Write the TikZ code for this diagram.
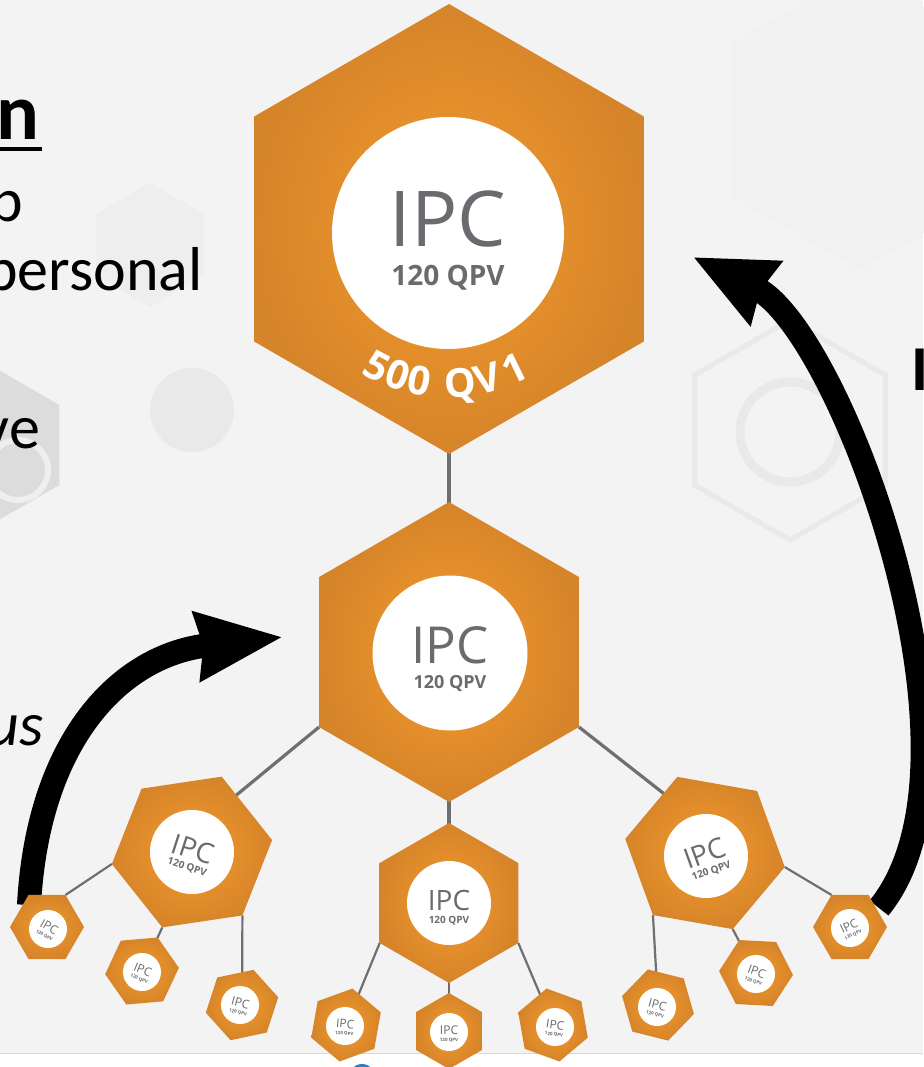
\documentclass[tikz,border=0pt]{standalone}
\usepackage{fontspec}
\setmainfont{Carlito}
\newfontfamily\ipcf{Open Sans}
\usetikzlibrary{arrows.meta}
\definecolor{bgc}{HTML}{F3F3F3}
\definecolor{decoa}{HTML}{EEEEEE}
\definecolor{decob}{HTML}{DCDCDC}
\definecolor{decoc}{HTML}{E9E9E9}
\definecolor{orin}{HTML}{F39B2D}
\definecolor{orout}{HTML}{D6842A}
\definecolor{ipcgray}{HTML}{6A6B6E}
\definecolor{lgray}{HTML}{6E6F73}
\definecolor{logoblue}{HTML}{2F7FC1}

% hexagon corner coordinates: name, cx, cy, R, rotation
\newcommand\hexdef[5]{%
  \coordinate (#1) at (#2,#3);
  \foreach \k in {1,...,6}{%
    \pgfmathsetmacro\hx{#2+#4*cos(#5+60*(\k-1))}%
    \pgfmathsetmacro\hy{#3+#4*sin(#5+60*(\k-1))}%
    \coordinate (#1-\k) at (\hx,\hy);}
}
\newcommand\hexfill[1]{%
  \shade[inner color=orin, outer color=orout] (#1-1) -- (#1-2) -- (#1-3) -- (#1-4) -- (#1-5) -- (#1-6) -- cycle;
}
\newcommand\hexdeco[5]{%
  \hexdef{tmph}{#2}{#3}{#4}{#5}
  \path[#1] (tmph-1) -- (tmph-2) -- (tmph-3) -- (tmph-4) -- (tmph-5) -- (tmph-6) -- cycle;
}
% label: name, cx, cy, rot, size IPC, size QPV, base IPC, base QPV
\newcommand\ipclab[8]{%
  \begin{scope}[shift={(#2,#3)}, rotate=#4, transform shape]
    \node[ipctext, font=\ipcf\fontsize{#5}{#5}\selectfont] (#1i) at (0,#7) {IPC};
    \node[ipctext, font=\ipcf\bfseries\fontsize{#6}{#6}\selectfont] (#1q) at (0,#8) {120 QPV};
  \end{scope}
}

\begin{document}
\begin{tikzpicture}[x=1pt,y=-1pt,
  conn/.style={draw=lgray, line width=3.2pt},
  connsm/.style={draw=lgray, line width=2.2pt},
  bigarrow/.style={draw=black, line width=24pt},
  ipctext/.style={text=ipcgray, inner sep=0pt, anchor=base},
  disk/.style={circle, fill=white, inner sep=0pt},
  lefttext/.style={text=black, inner sep=0pt, anchor=base east, font=\fontsize{62}{62}\selectfont},
]
\useasboundingbox (0,0) rectangle (923,1067);
\fill[bgc] (0,0) rectangle (923,1053);
\fill[white!97!bgc] (0,1053) rectangle (923,1067);
\draw[gray!30, line width=1pt] (0,1053) -- (923,1053);
\fill[logoblue] (362,1078) circle[radius=14];

% faint background decorations
\hexdeco{fill=decoa}{150}{245}{62}{30}
\hexdeco{fill=bgc!60!decoa}{860}{120}{150}{30}
\hexdeco{fill=decob}{-10}{445}{80}{30}
\draw[white!55!decob, line width=6pt] (18,470) circle[radius=30];
\fill[decoc] (192,410) circle[radius=42];
\hexdeco{draw=decoc, line width=5pt}{790}{430}{110}{30}
\draw[decoc, line width=9pt] (790,432) circle[radius=50];

% hexagon geometry
\hexdef{T}{449}{229}{225}{30}
\hexdef{M}{449}{652}{150}{30}
\hexdef{C}{449}{903}{80}{30}
\hexdef{L}{192}{852}{81}{-8.5}
\hexdef{R}{705}{853}{81}{10}
\hexdef{Sa}{47}{927}{37}{0}
\hexdef{Sb}{142}{971}{37}{-5}
\hexdef{Sc}{242}{1005}{37}{-12}
\hexdef{Sd}{346}{1025}{37}{-20}
\hexdef{Se}{449}{1031}{38}{30}
\hexdef{Sf}{553}{1025}{37}{20}
\hexdef{Sg}{658}{1005}{37}{14}
\hexdef{Sh}{756}{973}{37}{3}
\hexdef{Si}{850}{927}{37}{0}

% connectors
\coordinate (Lin) at (228,802);
\coordinate (Rin) at (672,800);
\draw[conn] (T) -- (M);
\draw[conn] (M) -- (C);
\draw[conn] (M-3) -- (Lin);
\draw[conn] (M-1) -- (Rin);
\draw[connsm] (C-3) -- (Sd);
\draw[connsm] (C) -- (Se);
\draw[connsm] (C-1) -- (Sf);
\draw[connsm] (L-4) -- (Sa-6);
\draw[connsm] (L-3) -- (Sb);
\draw[connsm] (L-2) -- (Sc);
\draw[connsm] (R-3) -- (Sg);
\draw[connsm] (R-2) -- (Sh);
\draw[connsm] (R-1) -- (Si-5);

% big curved arrows
\coordinate (la0) at (29,905);
\coordinate (ltip) at (283,637);
\coordinate (ra0) at (879,908);
\coordinate (rtip) at (693,257);
\draw[bigarrow, -{Stealth[length=85pt,width=66pt,inset=5pt]}] (la0) .. controls (38,740) and (120,655) .. (ltip);
\draw[bigarrow, -{Stealth[length=80pt,width=68pt,inset=5pt]}] (ra0) .. controls (1000,760) and (840,330) .. (rtip);

% hexagons
\foreach \h in {T,M,C,L,R,Sa,Sb,Sc,Sd,Se,Sf,Sg,Sh,Si}{\hexfill{\h}}

% white disks
\node[disk, minimum size=232pt] (Td) at (448,233) {};
\node[disk, minimum size=155pt] (Md) at (450,653) {};
\node[disk, minimum size=84pt] (Cd) at (449,903) {};
\node[disk, minimum size=84pt] (Ld) at (192,852) {};
\node[disk, minimum size=84pt] (Rd) at (706,856) {};
\foreach \n/\x/\y in {Sa/48/929, Sb/142/972, Sc/240/1005, Sd/345/1026, Se/449/1032, Sf/555/1027, Sg/657/1007, Sh/756/974, Si/850/928}
  \node[disk, minimum size=38pt] (\n d) at (\x,\y) {};

% labels
\ipclab{T}{448}{233}{0}{77}{28}{14}{52}
\ipclab{M}{450}{653}{0}{51}{18}{10}{35}
\ipclab{C}{449}{903}{0}{28}{10}{7}{20}
\ipclab{L}{192}{852}{-18}{28}{10}{7}{19}
\ipclab{R}{706}{856}{20}{28}{10}{7}{19}
\ipclab{Sa}{48}{929}{-30}{12}{4.5}{2}{9}
\ipclab{Sb}{142}{972}{-22}{12}{4.5}{2}{9}
\ipclab{Sc}{240}{1005}{-15}{12}{4.5}{2}{9}
\ipclab{Sd}{345}{1026}{-5}{12}{4.5}{2}{9}
\ipclab{Se}{449}{1032}{0}{12}{4.5}{2}{9}
\ipclab{Sf}{555}{1027}{-8}{12}{4.5}{2}{9}
\ipclab{Sg}{657}{1007}{-15}{12}{4.5}{2}{9}
\ipclab{Sh}{756}{974}{-20}{12}{4.5}{2}{9}
\ipclab{Si}{850}{928}{25}{12}{4.5}{2}{9}

% curved "500 QV1"
\foreach \ch/\a [count=\i] in {5/-28, 0/-19.5, 0/-11, Q/4.6, V/15, 1/26}{%
  \pgfmathsetmacro\px{448+165*sin(\a)}%
  \pgfmathsetmacro\py{233+165*cos(\a)}%
  \node[text=white, inner sep=0pt, anchor=base, rotate=\a, font=\ipcf\bfseries\fontsize{40}{40}\selectfont] (qv\i) at (\px,\py) {\ch};}

% cropped side texts
\node[lefttext, font=\bfseries\fontsize{80}{80}\selectfont] (tn) at (40,140) {n};
\fill[black] (0,147) rectangle (42,151);
\node[lefttext] (tp) at (23,222) {p};
\node[lefttext] (tpers) at (203,290) {personal};
\node[lefttext] (tve) at (40,448) {ve};
\node[lefttext, font=\itshape\fontsize{62}{62}\selectfont] (tus) at (44,745) {us};
\node[text=black, inner sep=0pt, anchor=base west, font=\bfseries\fontsize{64}{64}\selectfont] (tI) at (911,390) {I};
\end{tikzpicture}
\end{document}
